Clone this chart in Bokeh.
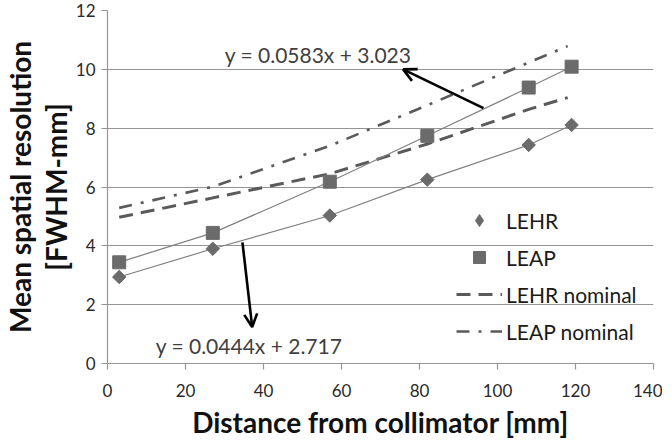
import math
from bokeh.plotting import figure
from bokeh.models import Range1d, Legend, LegendItem, Arrow, OpenHead, Label, FixedTicker
from bokeh.embed import file_html
from bokeh.resources import INLINE

# Data
distance = [3, 27, 57, 82, 108, 119]
lehr = [2.94, 3.90, 5.03, 6.25, 7.43, 8.11]
leap = [3.44, 4.44, 6.18, 7.74, 9.38, 10.09]
nominal_distance = [3, 27, 57, 82, 108, 118]
lehr_nominal = [4.97, 5.63, 6.45, 7.46, 8.64, 9.04]
leap_nominal = [5.29, 6.01, 7.40, 8.78, 10.23, 10.79]
eq_lehr = "y = 0.0444x + 2.717"
eq_leap = "y = 0.0583x + 3.023"
y_ticks = [0, 2, 4, 6, 8, 10, 12]
x_ticks = [0, 20, 40, 60, 80, 100, 120, 140]

FONT = "Lato"
GRID = "#959595"
MARK = "#6b6b6b"

p = figure(frame_width=546, frame_height=353, output_backend="svg", toolbar_location=None,
           x_range=Range1d(0, 140), y_range=Range1d(0, 12),
           min_border_left=101, min_border_right=9, min_border_top=10, min_border_bottom=71)
p.outline_line_color = None
p.background_fill_color = "white"
p.border_fill_color = "white"

# grid
p.xgrid.grid_line_color = None
p.ygrid.grid_line_color = GRID
p.ygrid.grid_line_width = 1.2
p.ygrid.ticker = FixedTicker(ticks=y_ticks)

# axes
for ax in (p.xaxis[0], p.yaxis[0]):
    ax.axis_line_color = GRID
    ax.axis_line_width = 1.2
    ax.major_tick_line_color = GRID
    ax.major_tick_line_width = 1.2
    ax.major_tick_out = 6
    ax.major_tick_in = 0
    ax.minor_tick_line_color = None
    ax.major_label_text_font = FONT
    ax.major_label_text_font_size = "17px"
    ax.major_label_text_color = "#2a2a2a"
    ax.axis_label_text_font = FONT
    ax.axis_label_text_font_style = "bold"
    ax.axis_label_text_color = "#111111"
p.xaxis[0].axis_label_text_font_size = "28px"
p.xaxis[0].axis_label_text_line_height = 1.0
p.yaxis[0].axis_label_text_font_size = "28px"
p.yaxis[0].axis_label_text_line_height = 1.05
p.xaxis[0].ticker = FixedTicker(ticks=x_ticks)
p.yaxis[0].ticker = FixedTicker(ticks=y_ticks)
p.xaxis[0].axis_label = "Distance from collimator [mm]"
p.yaxis[0].axis_label = "Mean spatial resolution\n[FWHM-mm]"
p.xaxis[0].major_label_standoff = 14
p.xaxis[0].axis_label_standoff = 5
p.yaxis[0].major_label_standoff = 6
p.yaxis[0].axis_label_standoff = 0

# nominal lines
r_lehr_nom = p.line(nominal_distance, lehr_nominal, line_color="#5a5a5a", line_width=3, line_dash="14 8")
r_leap_nom = p.line(nominal_distance, leap_nominal, line_color="#5a5a5a", line_width=2.6, line_dash="13 9 3 9")

# measured series with connecting lines
p.line(distance, leap, line_color="#808080", line_width=1.2)
p.line(distance, lehr, line_color="#808080", line_width=1.2)
p.scatter(distance, lehr, marker="square", angle=math.pi / 4, size=9.5,
          fill_color=MARK, line_color=MARK)
r_leap = p.scatter(distance, leap, marker="square", size=13, fill_color=MARK, line_color=MARK)
# diamond glyph used only for the legend swatch
r_lehr_key = p.scatter(distance, lehr, marker="diamond", size=12, fill_color=MARK,
                       line_color=MARK, visible=False)

# arrows
head_kw = dict(size=13, line_width=2.6, line_color="black")
p.add_layout(Arrow(end=OpenHead(**head_kw),
                   x_start=96.4, y_start=8.68, x_end=75.8, y_end=10.0,
                   line_width=2.6, line_color="black"))
p.add_layout(Arrow(end=OpenHead(**head_kw),
                   x_start=34.6, y_start=4.12, x_end=37.1, y_end=1.24,
                   line_width=2.6, line_color="black"))

# equation labels
p.add_layout(Label(x=54.0, y=10.49, text=eq_leap, text_align="center", text_baseline="middle",
                   text_font=FONT, text_font_size="21px", text_color="#404040"))
p.add_layout(Label(x=36.3, y=0.60, text=eq_lehr, text_align="center", text_baseline="middle",
                   text_font=FONT, text_font_size="21px", text_color="#404040"))

legend = Legend(items=[
    LegendItem(label="LEHR", renderers=[r_lehr_key]),
    LegendItem(label="LEAP", renderers=[r_leap]),
    LegendItem(label="LEHR nominal", renderers=[r_lehr_nom]),
    LegendItem(label="LEAP nominal", renderers=[r_leap_nom]),
], location=(349, 17), orientation="vertical")
legend.background_fill_alpha = 0
legend.border_line_color = None
legend.inactive_fill_alpha = 0
legend.padding = 0
legend.margin = 0
legend.spacing = 7
legend.glyph_width = 46
legend.glyph_height = 30
legend.label_height = 30
legend.label_standoff = 4
legend.label_text_font = FONT
legend.label_text_font_size = "21px"
legend.label_text_color = "#1a1a1a"
p.add_layout(legend)

open("out.html", "w").write(file_html(p, INLINE))
